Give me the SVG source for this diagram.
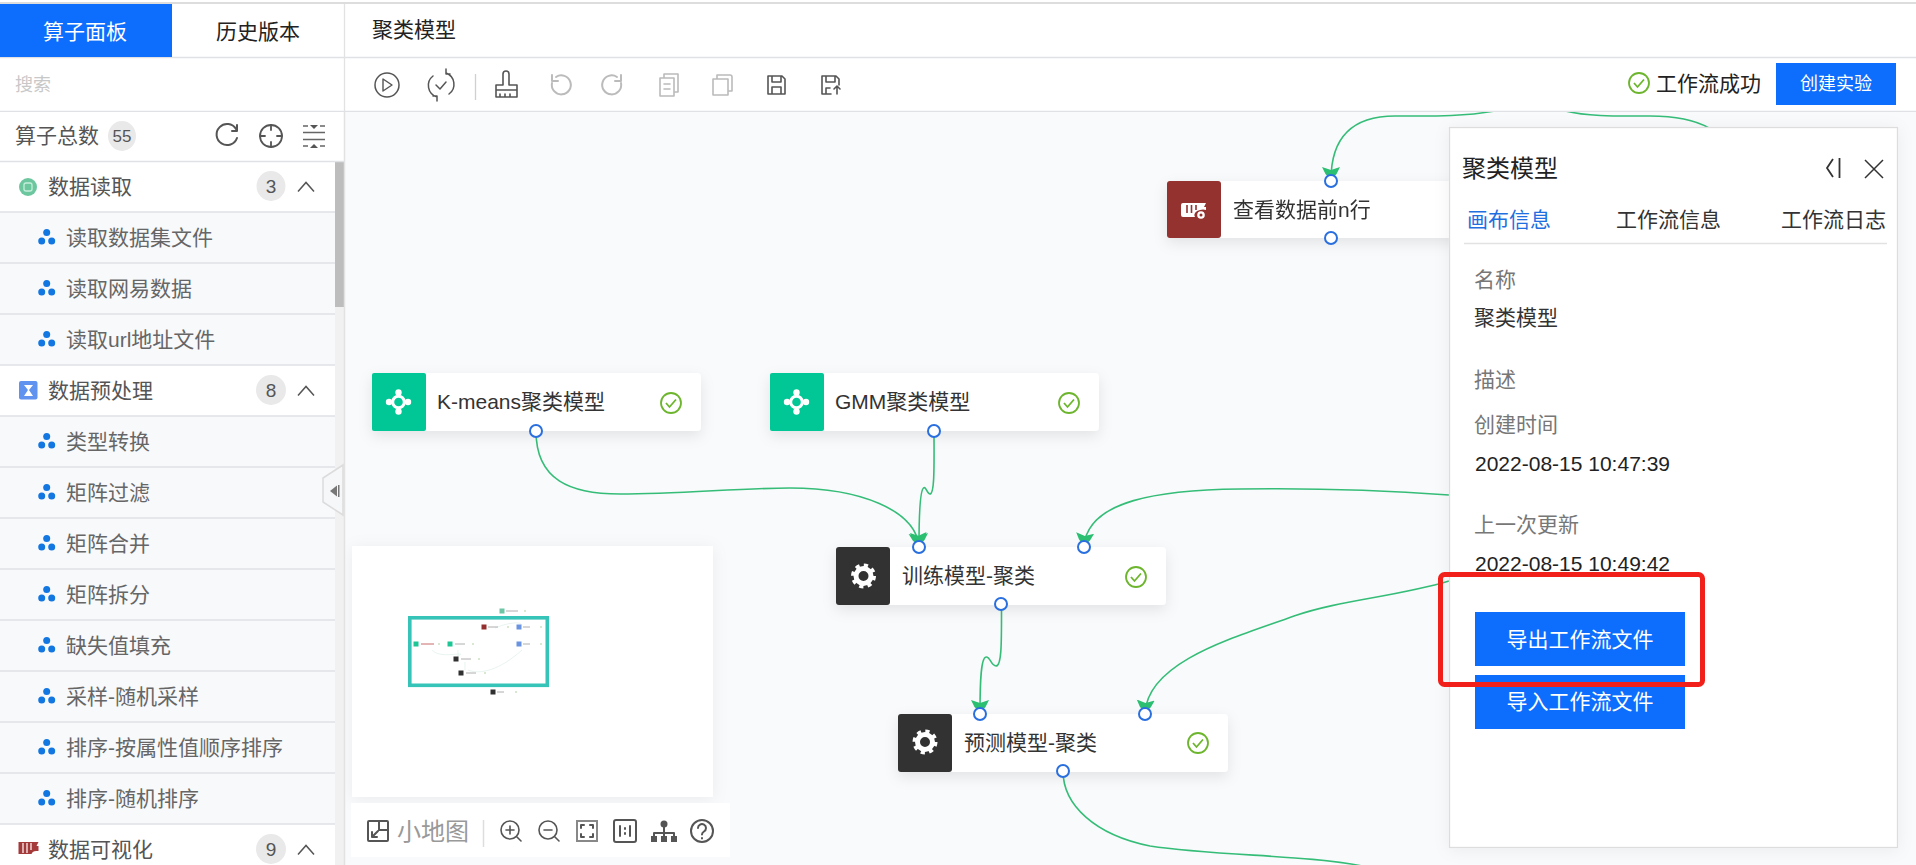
<svg xmlns="http://www.w3.org/2000/svg" width="1916" height="865" viewBox="0 0 1916 865">
<style>
text{font-family:"Liberation Sans","Noto Sans CJK SC",sans-serif;font-size:21px;dominant-baseline:central;fill:#333}
.sec{fill:#555}.item{fill:#666}.w{fill:#fff}.gray{fill:#777}.ink{fill:#222}
.badge{fill:#e9e9e9}.num{font-size:19px;fill:#555;text-anchor:middle}
.rowline{stroke:#dfe1e5;stroke-width:1.5}
.edge{fill:none;stroke:#35bd78;stroke-width:1.6;marker-end:url(#arrow)}
.edge0{fill:none;stroke:#35bd78;stroke-width:1.6}
.port{fill:#fff;stroke:#2a6fdf;stroke-width:2}
.card{fill:#fff}
.ic{fill:none;stroke:#555;stroke-width:2;stroke-linecap:round;stroke-linejoin:round}
.dis{fill:none;stroke:#bbb;stroke-width:2;stroke-linecap:round;stroke-linejoin:round}
.chev{fill:none;stroke:#555;stroke-width:1.5}
.btn{fill:#0d6efd}
</style>
<defs>
<filter id="sh" x="-15%" y="-40%" width="130%" height="190%"><feDropShadow dx="0" dy="5" stdDeviation="7" flood-color="#000" flood-opacity=".09"/></filter>
<filter id="shp" x="-10%" y="-10%" width="120%" height="120%"><feDropShadow dx="0" dy="2" stdDeviation="8" flood-color="#000" flood-opacity=".06"/></filter>
<marker id="arrow" markerUnits="userSpaceOnUse" markerWidth="20" markerHeight="20" refX="13" refY="10" orient="auto"><path d="M0 1 L3 10 L0 19 L7 15.500 L13 10 L7 4.500Z" fill="#2bbf72"/></marker>
<g id="gear"><circle r="7.5" fill="none" stroke="#fff" stroke-width="5"/><circle r="10.800" fill="none" stroke="#fff" stroke-width="3.400" stroke-dasharray="4.200 4.280"/></g>
<g id="cluster"><circle cy="-9.500" r="3.200" fill="#fff"/><circle cy="9.500" r="3.200" fill="#fff"/><circle cx="-9.500" r="3.200" fill="#fff"/><circle cx="9.500" r="3.200" fill="#fff"/><circle r="5.800" fill="none" stroke="#fff" stroke-width="3"/></g>
<g id="ok"><circle r="10" fill="none" stroke="#6cb52d" stroke-width="1.8"/><path d="M-5 0 L-1.5 4 L5 -3.5" fill="none" stroke="#6cb52d" stroke-width="1.8"/></g>
<g id="tri"><circle cy="-5.5" r="3.500" fill="#1277e1"/><circle cx="-5" cy="3" r="3.500" fill="#1277e1"/><circle cx="5" cy="3" r="3.500" fill="#1277e1"/></g>
<path id="up" d="M-8 4.500 L0 -4.500 L8 4.500"/>
</defs>

<rect width="1916" height="865" fill="#fff"/>
<rect x="344" y="111" width="1572" height="754" fill="#f9fafc"/>

<g id="connectors">
<path class="edge" d="M536 431 C536 480 570 494 620 494 C680 494 740 488 790 488 C860 488 915 510 919 546"/>
<path class="edge" d="M934 431 C934 460 935 494 930 494 C927 494 926 486 923.5 488 C920 491 919 510 919 546"/>
<path class="edge" d="M1449 495 C1380 490 1300 488 1240 489 C1160 490 1088 500 1084 546"/>
<path class="edge" d="M1001.5 604 C1001.5 640 1002 666 996 666 C991 666 990 656 986 657 C981 658 980 680 980 713"/>
<path class="edge" d="M1449 581 C1395 597 1340 600 1294 616 C1240 636 1148 660 1145 713"/>
<path class="edge0" d="M1063 771 C1063 805 1095 835 1150 846 C1215 856 1310 855 1362 866"/>
<path class="edge" d="M1495 111 C1460 117 1430 116 1395 116 C1350 116 1331 140 1331 180"/>
<path class="edge0" d="M1565 111 C1590 117 1620 116 1650 116 C1675 116 1695 120 1709 128"/>
</g>

<g id="node-view" filter="url(#sh)"><rect class="card" x="1167" y="181" width="330" height="57" rx="4"/><rect x="1167" y="181" width="54" height="57" rx="3" fill="#93302f"/>
<path d="M1183 203h23l-2 4h2v3a7 5 0 0 0-6 0 7 5 0 0 0-5 7h-12a2 2 0 0 1-2-2v-10a2 2 0 0 1 2-2z" fill="#fff"/><path d="M1187 205v8M1191.500 205v8M1196 205v5" stroke="#93302f" stroke-width="1.600"/><circle cx="1201" cy="215" r="3.800" fill="#fff"/><circle cx="1201" cy="215" r="1.500" fill="#93302f"/>
<text x="1233" y="209">查看数据前n行</text></g>
<g id="ports-view"><circle class="port" cx="1331" cy="181" r="6"/><circle class="port" cx="1331" cy="238" r="6"/></g>

<g id="node-kmeans"><g filter="url(#sh)"><rect class="card" x="372" y="373" width="329" height="58" rx="4"/><rect x="372" y="373" width="54" height="58" rx="2" fill="#05c795"/></g><use href="#cluster" x="398.500" y="402"/><text x="437" y="401">K-means聚类模型</text><use href="#ok" x="671" y="403"/><circle class="port" cx="536" cy="431" r="6"/></g>
<g id="node-gmm"><g filter="url(#sh)"><rect class="card" x="770" y="373" width="329" height="58" rx="4"/><rect x="770" y="373" width="54" height="58" rx="2" fill="#05c795"/></g><use href="#cluster" x="796.500" y="402"/><text x="835" y="401">GMM聚类模型</text><use href="#ok" x="1069" y="403"/><circle class="port" cx="934" cy="431" r="6"/></g>
<g id="node-train"><g filter="url(#sh)"><rect class="card" x="836" y="547" width="330" height="58" rx="4"/><rect x="836" y="547" width="54" height="58" rx="3" fill="#303030"/></g><use href="#gear" x="863.500" y="576"/><text x="902" y="575">训练模型-聚类</text><use href="#ok" x="1136" y="577"/><circle class="port" cx="919" cy="547" r="6"/><circle class="port" cx="1084" cy="547" r="6"/><circle class="port" cx="1001" cy="604" r="6"/></g>
<g id="node-predict"><g filter="url(#sh)"><rect class="card" x="898" y="714" width="330" height="58" rx="4"/><rect x="898" y="714" width="54" height="58" rx="3" fill="#303030"/></g><use href="#gear" x="925" y="742"/><text x="964" y="742">预测模型-聚类</text><use href="#ok" x="1198" y="743"/><circle class="port" cx="980" cy="714" r="6"/><circle class="port" cx="1145" cy="714" r="6"/><circle class="port" cx="1063" cy="771" r="6"/></g>

<g id="minimap">
<rect x="352" y="546" width="361" height="251" fill="#fff" filter="url(#shp)"/>
<g fill="none" stroke="#d8ece6" stroke-width=".6"><path d="M432 650C440 660 470 650 458 656M458 650v7M522 650C500 670 480 675 468 670M465 662v8M495 628c20-8 30-5 25-2"/></g>
<rect x="409.800" y="617.800" width="137.500" height="67.500" fill="none" stroke="#37c4b8" stroke-width="3.600"/>
<g><rect x="499.500" y="608.500" width="5" height="5" fill="#6cc5a5"/><path d="M506 611h12" stroke="#999" stroke-width=".8"/><circle cx="525" cy="611" r="1" fill="#cde0c0"/></g>
<g><rect x="481.500" y="624.500" width="5" height="5" fill="#93302f"/><path d="M488 627h10" stroke="#999" stroke-width=".8"/><circle cx="508" cy="627" r="1" fill="#cde0c0"/></g>
<g><rect x="516.500" y="624.500" width="5" height="5" fill="#6a93e0"/><path d="M523 627h7" stroke="#999" stroke-width=".8"/><circle cx="541" cy="627" r="1" fill="#cde0c0"/></g>
<g><rect x="516.500" y="641.500" width="5" height="5" fill="#6a93e0"/><path d="M523 644h7" stroke="#999" stroke-width=".8"/><circle cx="541" cy="644" r="1" fill="#cde0c0"/></g>
<g><rect x="413.500" y="641.500" width="5" height="5" fill="#1cc795"/><path d="M421 644h13" stroke="#b44" stroke-width=".8"/><circle cx="439" cy="644" r="1" fill="#cde0c0"/></g>
<g><rect x="447.500" y="641.500" width="5" height="5" fill="#1cc795"/><path d="M455 644h10" stroke="#999" stroke-width=".8"/><circle cx="473" cy="644" r="1" fill="#cde0c0"/></g>
<g><rect x="453.500" y="656.500" width="5" height="5" fill="#303030"/><path d="M461 659h10" stroke="#999" stroke-width=".8"/><circle cx="479" cy="659" r="1" fill="#cde0c0"/></g>
<g><rect x="458.500" y="670.500" width="5" height="5" fill="#303030"/><path d="M466 673h10" stroke="#999" stroke-width=".8"/><circle cx="485" cy="673" r="1" fill="#cde0c0"/></g>
<g><rect x="490.500" y="689.500" width="5" height="5" fill="#303030"/><path d="M497 692h7" stroke="#999" stroke-width=".8"/><circle cx="516" cy="692" r="1" fill="#cde0c0"/></g>
</g>

<g id="canvas-tools">
<rect x="351" y="803" width="379" height="54" fill="#fff"/>
<rect class="ic" x="368" y="821" width="20" height="20" rx="1"/><path class="ic" d="M379 821v9h9M372 837l6-6M372 832v5h5"/>
<text x="397" y="831" style="font-size:24px;fill:#999">小地图</text>
<path d="M483.500 820v27" stroke="#ddd" stroke-width="1.500"/>
<circle class="ic" cx="510" cy="830" r="9" style="stroke-width:1.600"/><path class="ic" d="M506 830h8M510 826v8M517 837l4 4" style="stroke-width:1.600"/>
<circle class="ic" cx="548" cy="830" r="9" style="stroke-width:1.600"/><path class="ic" d="M544 830h8M555 837l4 4" style="stroke-width:1.600"/>
<rect x="577" y="821" width="20" height="20" fill="none" stroke="#888" stroke-width="2"/><path class="ic" d="M581 828v-3h3M590 825h3v3M593 834v3h-3M584 837h-3v-3"/>
<rect class="ic" x="614" y="820" width="22" height="22" rx="2"/><path class="ic" d="M620 826v10M630 826v10M625 828v1M625 833v1"/>
<circle cx="664" cy="824" r="3.500" fill="#555"/><path class="ic" d="M664 824v8M654 838v-5h20v5M664 832v5"/><rect x="651" y="836" width="6" height="6" fill="#555"/><rect x="661" y="836" width="6" height="6" fill="#555"/><rect x="671" y="836" width="6" height="6" fill="#555"/>
<circle class="ic" cx="702" cy="831" r="11"/><path class="ic" d="M698 828a4 4 0 1 1 6 3.500c-1.500 1-2 1.500-2 3M702 838v.5"/>
</g>

<g id="sidebar">
<rect x="0" y="111" width="344" height="754" fill="#fff"/>
<rect x="0" y="212" width="335" height="153" fill="#f8f9fb"/><rect x="0" y="416" width="335" height="408" fill="#f8f9fb"/>
<rect x="335" y="161" width="9" height="704" fill="#f1f1f1"/><rect x="335" y="161" width="9" height="146" fill="#bdbdbd"/>
<g class="rowline"><path d="M0 161.500H344M0 212H335M0 263H335M0 314H335M0 365H335M0 416H335M0 467H335M0 518H335M0 569H335M0 620H335M0 671H335M0 722H335M0 773H335M0 824H335"/></g>
<path d="M344.500 57V865" stroke="#e2e2e2" stroke-width="1.500"/>
<text x="15" y="135" class="sec">算子总数</text>
<ellipse class="badge" cx="122" cy="136" rx="14" ry="15"/><text x="122" y="136" class="num" style="font-size:17px">55</text>
<path class="ic" d="M236 129a10.500 10.500 0 1 0 1 9M237 125v6h-5"/>
<circle class="ic" cx="271" cy="136" r="11" style="stroke-width:1.800"/><path class="ic" d="M271 125v5M271 142v5M260 136h5M277 136h5" style="stroke-width:1.800"/>
<path d="M303 132.500h22M303 139.500h22M303 126h5M320 126h5M303 146h5M320 146h5" stroke="#666" stroke-width="1.500" fill="none"/><path d="M310 125h8l-4 4zM310 148h8l-4-4z" fill="#555"/>

<circle cx="28" cy="187" r="9" fill="#6cc79f"/><rect x="24" y="183" width="8" height="8" rx="2" fill="none" stroke="#c6eedb" stroke-width="1.300"/>
<text x="48" y="186" class="sec">数据读取</text><ellipse class="badge" cx="271" cy="186" rx="14.500" ry="15"/><text x="271" y="186" class="num">3</text><use href="#up" x="306" y="187" class="chev"/>
<use href="#tri" x="46.700" y="238"/><text x="66" y="237" class="item">读取数据集文件</text>
<use href="#tri" x="46.700" y="289"/><text x="66" y="288" class="item">读取网易数据</text>
<use href="#tri" x="46.700" y="340"/><text x="66" y="339" class="item">读取url地址文件</text>

<rect x="19" y="381" width="18.500" height="18.500" rx="2" fill="#5f93ef"/><path d="M24 385h9l-4 5 4 6h-9l4-6z" fill="#fff"/>
<text x="48" y="390" class="sec">数据预处理</text><circle class="badge" cx="271" cy="390" r="15"/><text x="271" y="390" class="num">8</text><use href="#up" x="306" y="391" class="chev"/>
<use href="#tri" x="46.700" y="442"/><text x="66" y="441" class="item">类型转换</text>
<use href="#tri" x="46.700" y="493"/><text x="66" y="492" class="item">矩阵过滤</text>
<use href="#tri" x="46.700" y="544"/><text x="66" y="543" class="item">矩阵合并</text>
<use href="#tri" x="46.700" y="595"/><text x="66" y="594" class="item">矩阵拆分</text>
<use href="#tri" x="46.700" y="646"/><text x="66" y="645" class="item">缺失值填充</text>
<use href="#tri" x="46.700" y="697"/><text x="66" y="696" class="item">采样-随机采样</text>
<use href="#tri" x="46.700" y="748"/><text x="66" y="747" class="item">排序-按属性值顺序排序</text>
<use href="#tri" x="46.700" y="799"/><text x="66" y="798" class="item">排序-随机排序</text>

<path d="M18.500 842h20l-2 4h2v5h-2a5 4 0 0 0-5 3h-13z" fill="#a53a3a"/><path d="M23 843v10M27 843v10M31 843v7" stroke="#fff" stroke-width="1.200"/>
<text x="48" y="849" class="sec">数据可视化</text><circle class="badge" cx="271" cy="849" r="15"/><text x="271" y="849" class="num">9</text><use href="#up" x="306" y="850" class="chev"/>
<path d="M343 465L323 478V502L343 515Z" fill="#f6f7f9" stroke="#dcdcdc" stroke-width="1.500"/><path d="M330 491l7-5.500v11z" fill="#777"/><rect x="338" y="485" width="1.500" height="12" fill="#777"/>
</g>

<g id="topbar">
<rect x="0" y="0" width="1916" height="111" fill="#fff"/>
<rect x="0" y="2" width="1916" height="2" fill="#ddd"/>
<path d="M0 57.500H1916M0 111.300H1916" stroke="#dfe1e5" stroke-width="1.300"/>
<path d="M344.500 4V111" stroke="#e2e2e2" stroke-width="1.300"/>
<rect x="0" y="4" width="172" height="53" fill="#0d6efd"/>
<text x="43" y="31" class="w">算子面板</text><text x="216" y="31" class="ink">历史版本</text><text x="372" y="29" class="ink">聚类模型</text>
<text x="15" y="85" style="font-size:18px;fill:#c8c8c8">搜索</text>
<circle class="ic" cx="387" cy="85" r="12" style="stroke-width:1.500"/><path class="ic" d="M383 79l9 6-9 6z" style="stroke-width:1.400"/>
<path class="ic" d="M446 73a12 12 0 0 1 3 21M437 97a12 12 0 0 1-4-21M446 69v5h4M437 101v-5h-4M436 85l4 4 6-7" style="stroke-width:1.500"/>
<path d="M475.500 74v26" stroke="#d0d0d0" stroke-width="1.300"/>
<path class="ic" d="M503 85v-11a3 3 0 0 1 6 0v11h8v5h-21v-5zM496 90v7h21v-7M500 94v3M505 94v3M510 94v3" style="stroke-width:1.600"/>
<path class="dis" d="M556 77a9.500 9.500 0 1 1-4 6M552 75v6h6"/>
<path class="dis" d="M617 77a9.500 9.500 0 1 0 4 6M621 75v6h-6"/>
<path class="dis" d="M660 78h14v18h-14zM664 78v-4h14v18h-4M664 84h6M664 89h6" style="stroke-width:1.600"/>
<path class="dis" d="M713 79h15v16h-15zM717 79v-4h13a2 2 0 0 1 2 2v14h-4" style="stroke-width:1.600"/>
<path class="ic" d="M768 76h14l3 3v15h-17zM772 76v6h9v-6M772 94v-7h9v7" style="stroke-width:1.600"/>
<path class="ic" d="M822 76h14l3 3v6M822 76v18h9M826 76v6h9v-6M826 94v-6h4M834 89l3-3 3 3M837 86v8" style="stroke-width:1.600"/>
<use href="#ok" x="1639" y="83"/>
<text x="1656" y="83" class="ink">工作流成功</text>
<rect class="btn" x="1776" y="63" width="120" height="42"/><text x="1836" y="84" class="w" text-anchor="middle" style="font-size:18px">创建实验</text>
</g>

<g id="panel">
<rect x="1449.500" y="127.500" width="448" height="720" fill="#fff" stroke="#ddd" stroke-width="1.300" filter="url(#shp)"/>
<text x="1462" y="168" class="ink" style="font-size:24px">聚类模型</text>
<path d="M1833 159l-6 9 6 9M1839.500 158v20" fill="none" stroke="#333" stroke-width="1.800"/>
<path d="M1865 160l18 18M1883 160l-18 18" stroke="#333" stroke-width="1.500"/>
<text x="1467" y="219" style="fill:#1f6fe0">画布信息</text><text x="1616" y="219">工作流信息</text><text x="1781" y="219">工作流日志</text>
<path d="M1464 243.500H1887" stroke="#e2e2e2" stroke-width="1.300"/>
<text x="1474" y="279" class="gray">名称</text><text x="1474" y="317">聚类模型</text>
<text x="1474" y="379" class="gray">描述</text><text x="1474" y="424" class="gray">创建时间</text><text x="1475" y="463" class="ink">2022-08-15 10:47:39</text>
<text x="1474" y="524" class="gray">上一次更新</text><text x="1475" y="563" class="ink">2022-08-15 10:49:42</text>
<rect class="btn" x="1475" y="612" width="210" height="54"/><text x="1580" y="639" class="w" text-anchor="middle">导出工作流文件</text>
<rect class="btn" x="1475" y="675" width="210" height="54"/><text x="1580" y="701" class="w" text-anchor="middle">导入工作流文件</text>
</g>
<rect id="highlight" x="1440.500" y="574.500" width="262" height="110" rx="4" fill="none" stroke="#f2201a" stroke-width="5"/>
</svg>
